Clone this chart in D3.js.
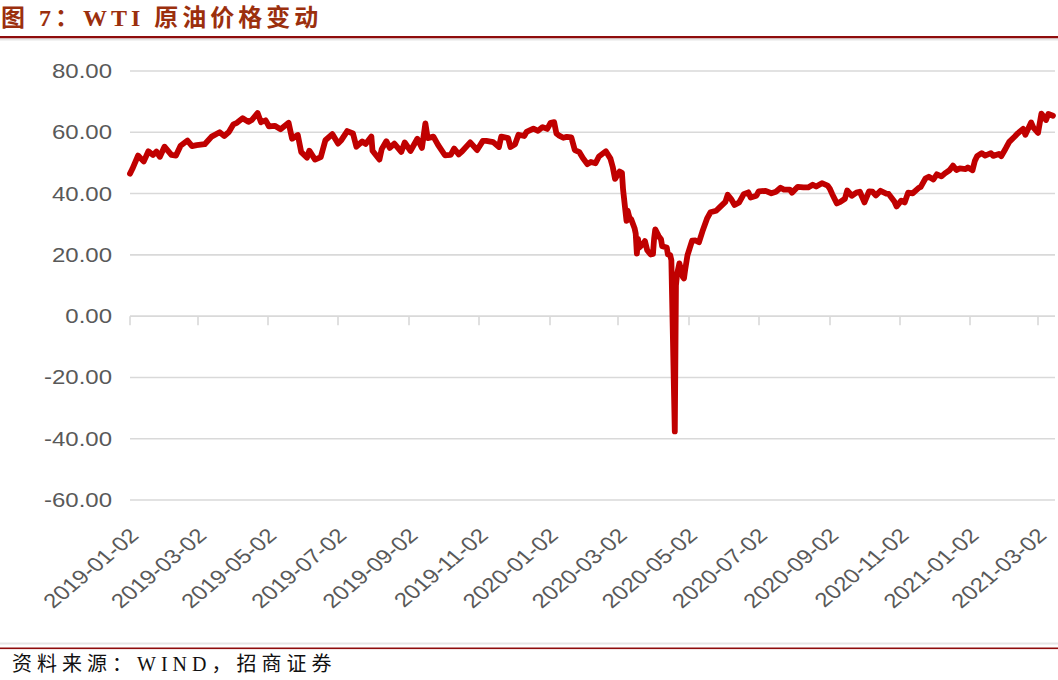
<!DOCTYPE html>
<html lang="zh">
<head>
<meta charset="UTF-8">
<title>WTI 原油价格变动</title>
<script src="https://d3js.org/d3.v7.min.js"></script>
<style>
  body { margin: 0; background: #fff; }
  .grid line { stroke: #d9d9d9; stroke-width: 1.6; }
  .price { fill: none; stroke: #c00000; stroke-width: 5.8; stroke-linejoin: round; stroke-linecap: round; }
  .lbl { font-family: "Liberation Sans", Arial, sans-serif; font-size: 20px; fill: #595959; }
</style>
</head>
<body>
<svg width="1058" height="680"></svg>
<script>
// WTI 价格 (美元/桶)
const wti2019 = [
  ["2019-01-02",46.5],["2019-01-04",48.0],["2019-01-09",52.4],["2019-01-11",51.6],["2019-01-14",50.5],
  ["2019-01-18",53.8],["2019-01-22",52.6],["2019-01-25",53.7],["2019-01-28",52.0],["2019-02-01",55.3],
  ["2019-02-07",52.6],["2019-02-11",52.4],["2019-02-15",55.6],["2019-02-21",57.3],["2019-02-25",55.5],
  ["2019-03-01",55.8],["2019-03-08",56.1],["2019-03-14",58.6],["2019-03-21",60.0],["2019-03-25",58.8],
  ["2019-03-29",60.1],["2019-04-02",62.6],["2019-04-05",63.1],["2019-04-10",64.6],["2019-04-15",63.4],
  ["2019-04-18",64.0],["2019-04-23",66.3],["2019-04-26",63.3],["2019-04-30",63.9],["2019-05-03",61.9],
  ["2019-05-08",62.1],["2019-05-13",61.0],["2019-05-20",63.1],["2019-05-23",57.9],["2019-05-28",59.1],
  ["2019-05-31",53.5],["2019-06-05",51.7],["2019-06-07",54.0],["2019-06-12",51.1],["2019-06-17",51.9],
  ["2019-06-21",57.4],["2019-06-27",59.4],["2019-07-02",56.3],["2019-07-05",57.5],["2019-07-10",60.4],
  ["2019-07-15",59.6],["2019-07-18",55.3],["2019-07-23",57.0],["2019-07-26",56.2],["2019-07-31",58.6],
  ["2019-08-01",54.0],["2019-08-07",51.1],["2019-08-09",54.5],["2019-08-13",57.1],["2019-08-16",54.9],
  ["2019-08-20",56.3],["2019-08-26",53.6],["2019-08-29",56.7],["2019-09-03",53.9],["2019-09-09",57.9],
  ["2019-09-13",54.9],["2019-09-16",62.9],["2019-09-18",58.1],["2019-09-23",58.6],["2019-09-27",55.9],
  ["2019-10-03",52.5],["2019-10-08",52.6],["2019-10-11",54.7],["2019-10-15",52.8],["2019-10-18",53.8],
  ["2019-10-25",56.7],["2019-10-31",54.2],["2019-11-05",57.2],["2019-11-08",57.2],["2019-11-14",56.8],
  ["2019-11-19",55.2],["2019-11-21",58.6],["2019-11-27",58.1],["2019-11-29",55.2],["2019-12-03",56.1],
  ["2019-12-06",59.2],["2019-12-11",58.8],["2019-12-13",60.1],["2019-12-19",61.2],["2019-12-23",60.5],
  ["2019-12-27",61.7],["2019-12-31",61.1]
];
const wti2020 = [
  ["2020-01-03",63.1],["2020-01-06",63.3],["2020-01-08",59.6],["2020-01-10",59.0],["2020-01-14",58.2],
  ["2020-01-17",58.5],["2020-01-21",58.3],["2020-01-24",54.2],["2020-01-28",53.5],["2020-01-31",51.6],
  ["2020-02-04",49.6],["2020-02-07",50.3],["2020-02-11",49.9],["2020-02-14",52.1],["2020-02-20",53.8],
  ["2020-02-24",51.4],["2020-02-26",48.7],["2020-02-28",44.8],["2020-03-03",47.2],["2020-03-05",46.8],
  ["2020-03-06",41.3],["2020-03-09",31.1],["2020-03-10",34.4],["2020-03-12",31.5],["2020-03-13",31.7],
  ["2020-03-16",28.7],["2020-03-17",26.9],["2020-03-18",20.4],["2020-03-19",25.2],["2020-03-20",22.4],
  ["2020-03-23",23.4],["2020-03-25",24.5],["2020-03-27",21.5],["2020-03-30",20.1],["2020-04-01",20.3],
  ["2020-04-02",25.3],["2020-04-03",28.3],["2020-04-06",26.1],["2020-04-08",25.1],["2020-04-09",22.8],
  ["2020-04-13",22.4],["2020-04-14",20.1],["2020-04-16",19.9],["2020-04-17",18.3],["2020-04-20",-37.6],
  ["2020-04-21",10.0],["2020-04-22",13.8],["2020-04-24",17.2],["2020-04-27",12.8],["2020-04-28",12.3],
  ["2020-04-29",15.1],["2020-05-01",19.8],["2020-05-05",24.6],["2020-05-08",24.7],["2020-05-11",24.1],
  ["2020-05-14",27.6],["2020-05-18",31.8],["2020-05-21",33.9],["2020-05-26",34.4],["2020-05-29",35.5],
  ["2020-06-03",37.3],["2020-06-05",39.6],["2020-06-08",38.2],["2020-06-11",36.3],["2020-06-15",37.1],
  ["2020-06-19",39.8],["2020-06-23",40.4],["2020-06-25",38.7],["2020-06-30",39.3],["2020-07-02",40.7],
  ["2020-07-08",40.9],["2020-07-13",40.1],["2020-07-17",40.6],["2020-07-21",41.9],["2020-07-24",41.3],
  ["2020-07-29",41.3],["2020-07-31",40.3],["2020-08-05",42.2],["2020-08-10",42.0],["2020-08-14",42.0],
  ["2020-08-18",42.9],["2020-08-21",42.3],["2020-08-26",43.4],["2020-08-31",42.6],["2020-09-02",41.5],
  ["2020-09-04",39.8],["2020-09-08",36.8],["2020-09-11",37.3],["2020-09-15",38.3],["2020-09-17",41.0],
  ["2020-09-21",39.3],["2020-09-25",40.3],["2020-09-28",40.6],["2020-10-02",37.1],["2020-10-06",40.7],
  ["2020-10-09",40.6],["2020-10-12",39.4],["2020-10-16",40.9],["2020-10-21",40.0],["2020-10-23",39.9],
  ["2020-10-28",37.4],["2020-10-30",35.8],["2020-11-03",37.7],["2020-11-06",37.1],["2020-11-09",40.3],
  ["2020-11-13",40.1],["2020-11-18",41.8],["2020-11-20",42.2],["2020-11-24",44.9],["2020-11-27",45.5],
  ["2020-12-01",44.6],["2020-12-04",46.3],["2020-12-08",45.6],["2020-12-11",46.6],["2020-12-15",47.6],
  ["2020-12-18",49.1],["2020-12-21",47.7],["2020-12-24",48.2],["2020-12-29",48.0],["2020-12-31",48.5]
];
const wti2021 = [
  ["2021-01-04",47.6],["2021-01-06",50.6],["2021-01-08",52.2],["2021-01-12",53.2],["2021-01-15",52.4],
  ["2021-01-20",53.2],["2021-01-22",52.3],["2021-01-27",52.9],["2021-01-29",52.2],["2021-02-02",54.8],
  ["2021-02-05",56.9],["2021-02-10",58.7],["2021-02-12",59.5],["2021-02-17",61.1],["2021-02-19",59.2],
  ["2021-02-24",63.2],["2021-02-26",61.5],["2021-03-02",59.8],["2021-03-05",66.1],["2021-03-09",64.0],
  ["2021-03-11",66.0],["2021-03-15",65.4]
];
const yTicks = [-60, -40, -20, 0, 20, 40, 60, 80];
const xTickLabels = ["2019-01-02","2019-03-02","2019-05-02","2019-07-02","2019-09-02","2019-11-02",
  "2020-01-02","2020-03-02","2020-05-02","2020-07-02","2020-09-02","2020-11-02","2021-01-02","2021-03-02"];

const parse = d3.utcParse("%Y-%m-%d");
const data = wti2019.concat(wti2020, wti2021).map(d => ({ date: parse(d[0]), price: d[1] }));

const svg = d3.select("svg");
const left = 130, right = 1055;

const x = d3.scaleUtc()
  .domain([parse(xTickLabels[0]), parse(xTickLabels[xTickLabels.length - 1])])
  .range([left, 1038]);
const y = d3.scaleLinear().domain([-60, 80]).range([500, 71]);

// 网格线
svg.append("g").attr("class", "grid")
  .selectAll("line").data(yTicks).join("line")
  .attr("x1", left).attr("x2", right)
  .attr("y1", d => y(d)).attr("y2", d => y(d));

// y 轴标签 (原图横向拉伸)
svg.append("g").selectAll("text").data(yTicks).join("text")
  .attr("class", "lbl")
  .attr("text-anchor", "end")
  .attr("dy", "0.35em")
  .attr("transform", d => `translate(112,${y(d)}) scale(1.2,1)`)
  .text(d => d.toFixed(2));

// x 轴刻度
const xg = svg.append("g").attr("class", "grid");
xg.selectAll("line").data(xTickLabels).join("line")
  .attr("x1", d => Math.round(x(parse(d)))).attr("x2", d => Math.round(x(parse(d))))
  .attr("y1", y(0)).attr("y2", y(0) + 9);

svg.append("g").selectAll("text").data(xTickLabels).join("text")
  .attr("class", "lbl")
  .attr("text-anchor", "end")
  .attr("transform", d => `translate(${x(parse(d)) + 10},537) scale(1.2,1) rotate(-45)`)
  .text(d => d);

// 价格线
const line = d3.line()
  .x(d => x(d.date))
  .y(d => y(d.price));
svg.append("path").datum(data).attr("class", "price").attr("d", line);

// 标题
svg.append("text")
  .attr("x", 1).attr("y", 26)
  .attr("font-family", "'Liberation Serif', 'Noto Sans CJK SC', serif")
  .attr("font-weight", "bold").attr("font-size", 24)
  .attr("letter-spacing", 4)
  .attr("fill", "#9b2f0d")
  .text("图 7：WTI 原油价格变动");
svg.append("rect").attr("x", 0).attr("y", 36).attr("width", 1058).attr("height", 2.5).attr("fill", "#8f0c0c");
svg.append("rect").attr("x", 0).attr("y", 38.5).attr("width", 1058).attr("height", 2).attr("fill", "#e6e6e6");

// 资料来源
svg.append("rect").attr("x", 0).attr("y", 642.5).attr("width", 1058).attr("height", 2).attr("fill", "#e6e6e6");
svg.append("rect").attr("x", 0).attr("y", 647.5).attr("width", 1058).attr("height", 1.6).attr("fill", "#8f0c0c");
svg.append("text")
  .attr("x", 12).attr("y", 671)
  .attr("font-family", "'Liberation Serif', 'Noto Sans CJK SC', serif")
  .attr("font-size", 20)
  .attr("letter-spacing", 5)
  .attr("fill", "#111")
  .text("资料来源：WIND，招商证券");
</script>
</body>
</html>
